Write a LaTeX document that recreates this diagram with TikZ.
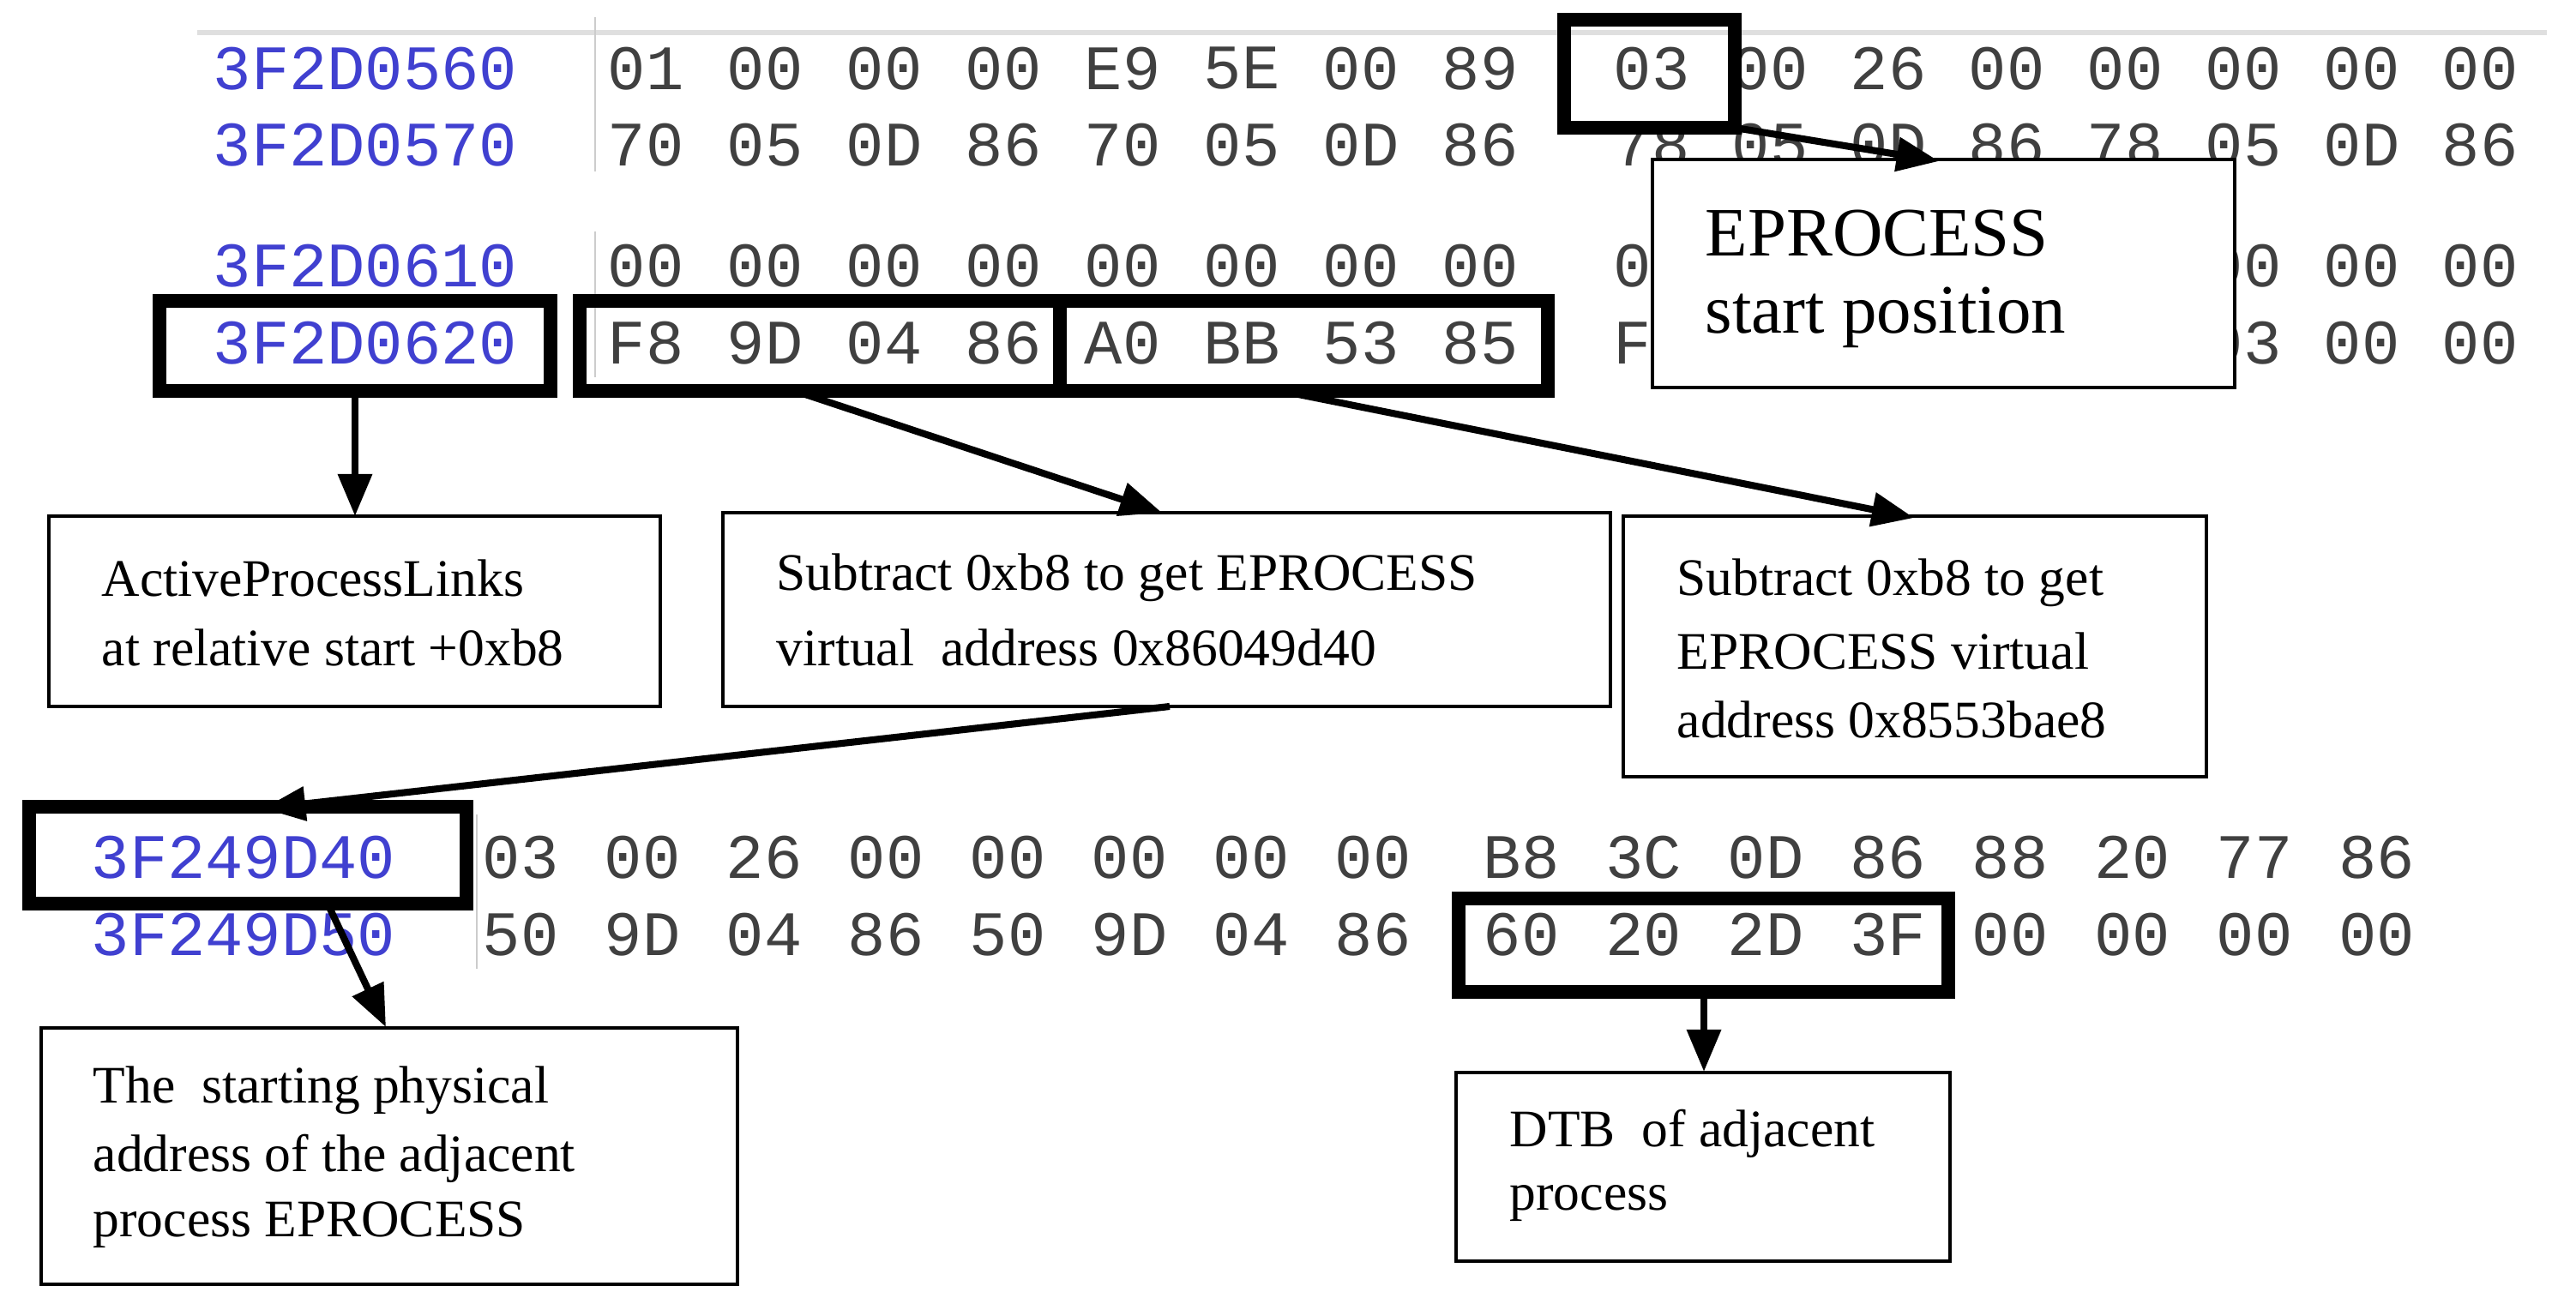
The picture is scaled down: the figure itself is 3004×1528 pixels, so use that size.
\documentclass[tikz,border=0pt]{standalone}
\usepackage{fontspec}
\setmainfont{Liberation Serif}
\newfontfamily\monof{Liberation Mono}
\usetikzlibrary{arrows.meta}
\definecolor{addr}{HTML}{4040D0}
\definecolor{hexc}{HTML}{404040}
\begin{document}
\begin{tikzpicture}[x=0.01cm,y=-0.01cm,
  hex/.style={font=\monof\fontsize{21}{24}\selectfont, text=hexc, inner sep=0pt},
  adr/.style={font=\monof\fontsize{21}{24}\selectfont, text=addr, inner sep=0pt},
  hl/.style={draw=black, line width=4.3pt},
  box/.style={draw=black, line width=0.9pt, fill=white},
  lbl/.style={align=left, anchor=west, inner sep=0pt, font=\fontsize{17.5}{21}\selectfont},
  arr/.style={line width=2.3pt, -{Triangle[length=14pt,width=11pt]}}]
\useasboundingbox (0,0) rectangle (3004,1528);
\fill[white] (0,0) rectangle (3004,1528);
% top grid
\draw[gray!25, line width=1.8pt] (230,38) -- (2970,38);
\draw[gray!40, line width=0.4pt] (694,20) -- (694,200) (694,270) -- (694,440);
\draw[gray!40, line width=0.4pt] (556,950) -- (556,1130);
% hex rows
\newcommand{\hexrow}[6]{%
  \foreach \b [count=\i from 0] in {#6} {%
    \pgfmathsetmacro\xx{\i<8 ? #1+#2*\i : #3+#4*(\i-8)}%
    \node[hex] at (\xx,#5) {\b};}}
\node[adr] (a1) at (426,80) {3F2D0560};
\node[adr] (a2) at (426,169) {3F2D0570};
\node[adr] (a3) at (426,310) {3F2D0610};
\node[adr] (a4) at (426,400) {3F2D0620};
\node[adr] (a5) at (284,1000) {3F249D40};
\node[adr] (a6) at (284,1090) {3F249D50};
\hexrow{753}{139}{1926}{138}{80}{01,00,00,00,E9,5E,00,89,03,00,26,00,00,00,00,00}
\hexrow{753}{139}{1926}{138}{169}{70,05,0D,86,70,05,0D,86,78,05,0D,86,78,05,0D,86}
\hexrow{753}{139}{1926}{138}{310}{00,00,00,00,00,00,00,00,00,,,,,00,00,00}
\hexrow{753}{139}{1926}{138}{400}{F8,9D,04,86,A0,BB,53,85,F8,,,,,03,00,00}
\hexrow{607}{142}{1774}{142.5}{1000}{03,00,26,00,00,00,00,00,B8,3C,0D,86,88,20,77,86}
\hexrow{607}{142}{1774}{142.5}{1090}{50,9D,04,86,50,9D,04,86,60,20,2D,3F,00,00,00,00}
% highlight boxes
\draw[hl] (1824,23) rectangle (2023,149) coordinate (h03);
\draw[hl] (186,351) rectangle (642,456);
\draw[hl] (676,351) rectangle (1236,456);
\draw[hl] (1236,351) rectangle (1805,456);
\draw[hl] (34,941) rectangle (544,1054);
\draw[hl] (1701,1048) rectangle (2272,1157);
\coordinate (hA) at (414,458);
\coordinate (hB) at (939,460);
\coordinate (hC) at (1514,460);
\coordinate (hD) at (383,1056);
\coordinate (hE) at (1987,1159);
\coordinate (hF) at (307,943);
% label boxes
\path[box] (1927,186) rectangle (2606,452);
\node[lbl, font=\fontsize{23}{28}\selectfont] (tE) at (1988,272) {EPROCESS};
\node[lbl, font=\fontsize{23}{28}\selectfont] (tE2) at (1988,370) {start position};
\path[box] (57,602) rectangle (770,824);
\node[lbl] (t1) at (118,674) {ActiveProcessLinks};
\node[lbl] (t1b) at (118,755) {at relative start +0xb8};
\path[box] (843,598) rectangle (1878,824);
\node[lbl] (t2) at (905,674) {Subtract 0xb8 to get EPROCESS};
\node[lbl] (t2b) at (905,755) {virtual\ \ address 0x86049d40};
\path[box] (1893,602) rectangle (2573,906);
\node[lbl] (t3) at (1955,680) {Subtract 0xb8 to get};
\node[lbl] (t3b) at (1955,759) {EPROCESS virtual};
\node[lbl] (t3c) at (1955,839) {address 0x8553bae8};
\path[box] (48,1199) rectangle (860,1498);
\node[lbl] (t4) at (108,1272) {The\ \ starting physical};
\node[lbl] (t4b) at (108,1351) {address of the adjacent};
\node[lbl] (t4c) at (108,1429) {process EPROCESS};
\path[box] (1698,1251) rectangle (2274,1471);
\node[lbl] (t5) at (1760,1322) {DTB\ \ of adjacent};
\node[lbl] (t5b) at (1760,1404) {process};
\coordinate (eA) at (414,602);
\coordinate (eB) at (1355,598);
\coordinate (eC) at (2232,604);
\coordinate (eE) at (2261,188);
\coordinate (eF) at (450,1198);
\coordinate (eG) at (1987,1250);
\coordinate (sF) at (1364,824);
% arrows
\draw[arr] (h03) -- (eE);
\draw[arr] (hA) -- (eA);
\draw[arr] (hB) -- (eB);
\draw[arr] (hC) -- (eC);
\draw[arr] (sF) -- (hF);
\draw[arr] (hD) -- (eF);
\draw[arr] (hE) -- (eG);
\end{tikzpicture}
\end{document}
